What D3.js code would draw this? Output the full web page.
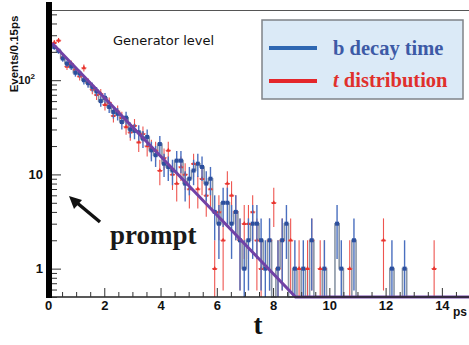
<!DOCTYPE html>
<html>
<head>
<meta charset="utf-8">
<script src="https://cdn.jsdelivr.net/npm/d3@7"></script>
<style>
	body { margin: 0; background: #fff; }
	svg { display: block; }
</style>
</head>
<body>
<svg id="chart"></svg>
<script>
// histogram bins, 0.15 ps wide, from 0 to 15 ps
const binWidth = 0.15;

// blue: b decay time (events per bin)
const bDecay = [
	240, 225, 205, 170, 150, 140, 120, 118, 100, 93,
	85, 76, 60, 65, 52, 46, 44, 36, 40, 30,
	29, 28, 24, 25, 18, 16, 21, 13, 12, 11,
	14, 14, 8, 9, 11, 13, 12, 8, 9, 4,
	3, 5, 5, 3, 4, 2, 1, 2, 3, 3,
	2, 1, 2, 0, 1, 2, 3, 0, 1, 0,
	1, 0, 2, 0, 0, 1, 0, 0, 3, 1,
	0, 0, 2, 0, 0, 0, 0, 0, 0, 0,
	0, 1, 0, 0, 1, 0, 0, 0, 0, 0,
	0, 0, 0, 0, 0, 0, 0, 0, 0, 0
];

// red: t distribution (events per bin)
const tDist = [
	230, 250, 265, 175, 140, 150, 130, 110, 135, 95,
	80, 70, 72, 55, 58, 42, 47, 40, 32, 28,
	33, 22, 27, 20, 19, 18, 11, 15, 18, 10,
	8, 12, 10, 7, 13, 7, 9, 6, 7, 1,
	4, 2, 8, 6, 4, 2, 3, 3, 4, 2,
	1, 0, 2, 5, 1, 2, 0, 2, 0, 1,
	0, 1, 2, 0, 1, 1, 0, 0, 0, 0,
	0, 1, 0, 0, 0, 0, 0, 0, 0, 2,
	0, 0, 0, 0, 0, 0, 0, 0, 0, 0,
	0, 1, 0, 0, 0, 0, 0, 0, 0, 0
];

// exponential fit as drawn (clipped at the axis minimum)
const fitT = [0.15, 8.8, 15];
const fitV = [247, 0.5, 0.5];

const xMajor = [0, 2, 4, 6, 8, 10, 12, 14];
const yMajor = [1, 10, 100];

const legendLabels = ["b decay time", "distribution"];

const W = 469, H = 345;

const svg = d3.select("#chart")
	.attr("width", W)
	.attr("height", H)
	.style("font-family", "'Liberation Sans', Arial, sans-serif");

const x = d3.scaleLinear().domain([0, 15]).range([48, 470]);
const y = d3.scaleLog().domain([0.5, 556]).range([297, 10]);
const yMin = 0.5;
const yc = v => y(Math.max(v, yMin));

// frame top line
svg.append("line")
	.attr("x1", 52).attr("x2", W)
	.attr("y1", 10.5).attr("y2", 10.5)
	.attr("stroke", "#555").attr("stroke-width", 1.2);

// histogram outline of b decay time (grey steps)
let step = [[x(0), yc(0)]];
bDecay.forEach((v, i) => {
	step.push([x(i * binWidth), yc(v)]);
	step.push([x((i + 1) * binWidth), yc(v)]);
});
svg.append("path")
	.attr("d", d3.line()(step))
	.attr("fill", "none")
	.attr("stroke", "#8a96a6")
	.attr("stroke-width", 1.6);

// red: t distribution, error crosses
const red = svg.append("g").attr("stroke", "#ee5550").attr("stroke-width", 1.1);
tDist.forEach((v, i) => {
	if (v <= 0) return;
	let cx = x((i + 0.5) * binWidth);
	let e = Math.sqrt(v);
	red.append("line")
		.attr("x1", cx).attr("x2", cx)
		.attr("y1", yc(v - e)).attr("y2", yc(v + e));
	red.append("line")
		.attr("x1", x(i * binWidth) - 0.5).attr("x2", x((i + 1) * binWidth) + 0.5)
		.attr("y1", y(v)).attr("y2", y(v));
	red.append("path")
		.attr("d", d3.symbol(d3.symbolTriangle, 9)())
		.attr("transform", `translate(${cx},${y(v)})`)
		.attr("fill", "#e8342e")
		.attr("stroke", "none");
});

// blue: b decay time, error bars and markers
const blue = svg.append("g").attr("stroke", "#4a6fbf").attr("stroke-width", 1.4);
bDecay.forEach((v, i) => {
	if (v <= 0) return;
	let cx = x((i + 0.5) * binWidth);
	let e = Math.sqrt(v);
	blue.append("line")
		.attr("x1", cx).attr("x2", cx)
		.attr("y1", yc(v - e)).attr("y2", yc(v + e));
	blue.append("rect")
		.attr("x", cx - 2).attr("y", y(v) - 2)
		.attr("width", 4).attr("height", 4)
		.attr("fill", "#2c4f9e")
		.attr("stroke", "none");
});

// fit line
svg.append("path")
	.attr("d", d3.line().x((d, i) => x(fitT[i])).y(d => y(d))(fitV))
	.attr("fill", "none")
	.attr("stroke", "#7142a6")
	.attr("stroke-width", 3);

// x axis
svg.append("line")
	.attr("x1", 48).attr("x2", W)
	.attr("y1", 297).attr("y2", 297)
	.attr("stroke", "#222").attr("stroke-width", 1.5);

const xMinor = d3.range(0.5, 15, 0.5).filter(t => !xMajor.includes(t));
svg.append("g")
	.attr("transform", "translate(0,297)")
	.call(d3.axisBottom(x).tickValues(xMinor).tickSize(-5).tickFormat(""))
	.call(g => g.select(".domain").remove())
	.call(g => g.selectAll("line").attr("stroke", "#333"));

svg.append("g")
	.attr("transform", "translate(0,297)")
	.call(d3.axisBottom(x).tickValues(xMajor).tickSize(-9).tickPadding(4).tickFormat(d3.format("d")))
	.call(g => g.select(".domain").remove())
	.call(g => g.selectAll("line").attr("stroke", "#333"))
	.call(g => g.selectAll("text")
		.attr("font-size", 13)
		.attr("font-weight", "bold")
		.attr("fill", "#111"));

// y axis: thick black bar
svg.append("rect")
	.attr("x", 46).attr("y", 2)
	.attr("width", 6).attr("height", 296)
	.attr("fill", "#000");

const yMinor = y.ticks().filter(v => !yMajor.includes(v) && v >= 0.5);
svg.append("g")
	.attr("transform", "translate(52,0)")
	.call(d3.axisLeft(y).tickValues(yMinor).tickSize(-5).tickFormat(""))
	.call(g => g.select(".domain").remove())
	.call(g => g.selectAll("line").attr("stroke", "#333"));

svg.append("g")
	.attr("transform", "translate(52,0)")
	.call(d3.axisLeft(y).tickValues(yMajor).tickSize(-9).tickPadding(9).tickFormat(d => d === 100 ? "10" : String(d)))
	.call(g => g.select(".domain").remove())
	.call(g => g.selectAll("line").attr("stroke", "#333"))
	.call(g => g.selectAll("text")
		.attr("font-size", 13)
		.attr("font-weight", "bold")
		.attr("fill", "#111"))
	.call(g => g.selectAll(".tick text").filter(d => d === 100)
		.attr("x", -17)
		.attr("font-size", 11)
		.append("tspan").attr("dy", -5).attr("font-size", 8).text("2"));

// y label
svg.append("text")
	.attr("transform", "translate(18,54) rotate(-90)")
	.attr("text-anchor", "middle")
	.attr("font-size", 11.5)
	.attr("font-weight", "bold")
	.attr("fill", "#111")
	.text("Events/0.15ps");

// x unit and big t
svg.append("text")
	.attr("x", 453).attr("y", 316)
	.attr("font-size", 12)
	.attr("font-weight", "bold")
	.attr("fill", "#111")
	.text("ps");

svg.append("text")
	.attr("x", 258).attr("y", 334)
	.attr("text-anchor", "middle")
	.attr("font-family", "'Liberation Serif', 'Times New Roman', serif")
	.attr("font-size", 27)
	.attr("font-weight", "bold")
	.attr("fill", "#111")
	.text("t");

// "Generator level"
svg.append("text")
	.attr("x", 113).attr("y", 45)
	.attr("font-family", "'DejaVu Sans', sans-serif")
	.attr("font-size", 13)
	.attr("fill", "#111")
	.text("Generator level");

// legend
const leg = svg.append("g");
leg.append("rect")
	.attr("x", 262).attr("y", 20)
	.attr("width", 201).attr("height", 79)
	.attr("fill", "#dbeaf7")
	.attr("stroke", "#7f8388")
	.attr("stroke-width", 1.5);
leg.append("line")
	.attr("x1", 269).attr("x2", 317).attr("y1", 48).attr("y2", 48)
	.attr("stroke", "#2e67b2").attr("stroke-width", 4);
leg.append("line")
	.attr("x1", 269).attr("x2", 317).attr("y1", 81).attr("y2", 81)
	.attr("stroke", "#e4262a").attr("stroke-width", 4);
leg.append("text")
	.attr("x", 333).attr("y", 55)
	.attr("font-family", "'Liberation Serif', 'Times New Roman', serif")
	.attr("font-size", 20.5)
	.attr("font-weight", "bold")
	.attr("fill", "#3d5aa6")
	.text(legendLabels[0]);
const lt = leg.append("text")
	.attr("x", 333).attr("y", 87)
	.attr("font-family", "'Liberation Serif', 'Times New Roman', serif")
	.attr("font-size", 20.5)
	.attr("font-weight", "bold")
	.attr("fill", "#e0302c");
lt.append("tspan").attr("font-style", "italic").text("t");
lt.append("tspan").text(" " + legendLabels[1]);

// prompt arrow
svg.append("line")
	.attr("x1", 100).attr("y1", 222)
	.attr("x2", 76).attr("y2", 202)
	.attr("stroke", "#111")
	.attr("stroke-width", 3.5);
svg.append("path")
	.attr("d", "M69,196 L82,200 L74,209 Z")
	.attr("fill", "#111");

svg.append("text")
	.attr("x", 110).attr("y", 244)
	.attr("font-family", "'Liberation Serif', 'Times New Roman', serif")
	.attr("font-size", 27)
	.attr("font-weight", "bold")
	.attr("fill", "#1a1a1a")
	.text("prompt");
</script>
</body>
</html>
